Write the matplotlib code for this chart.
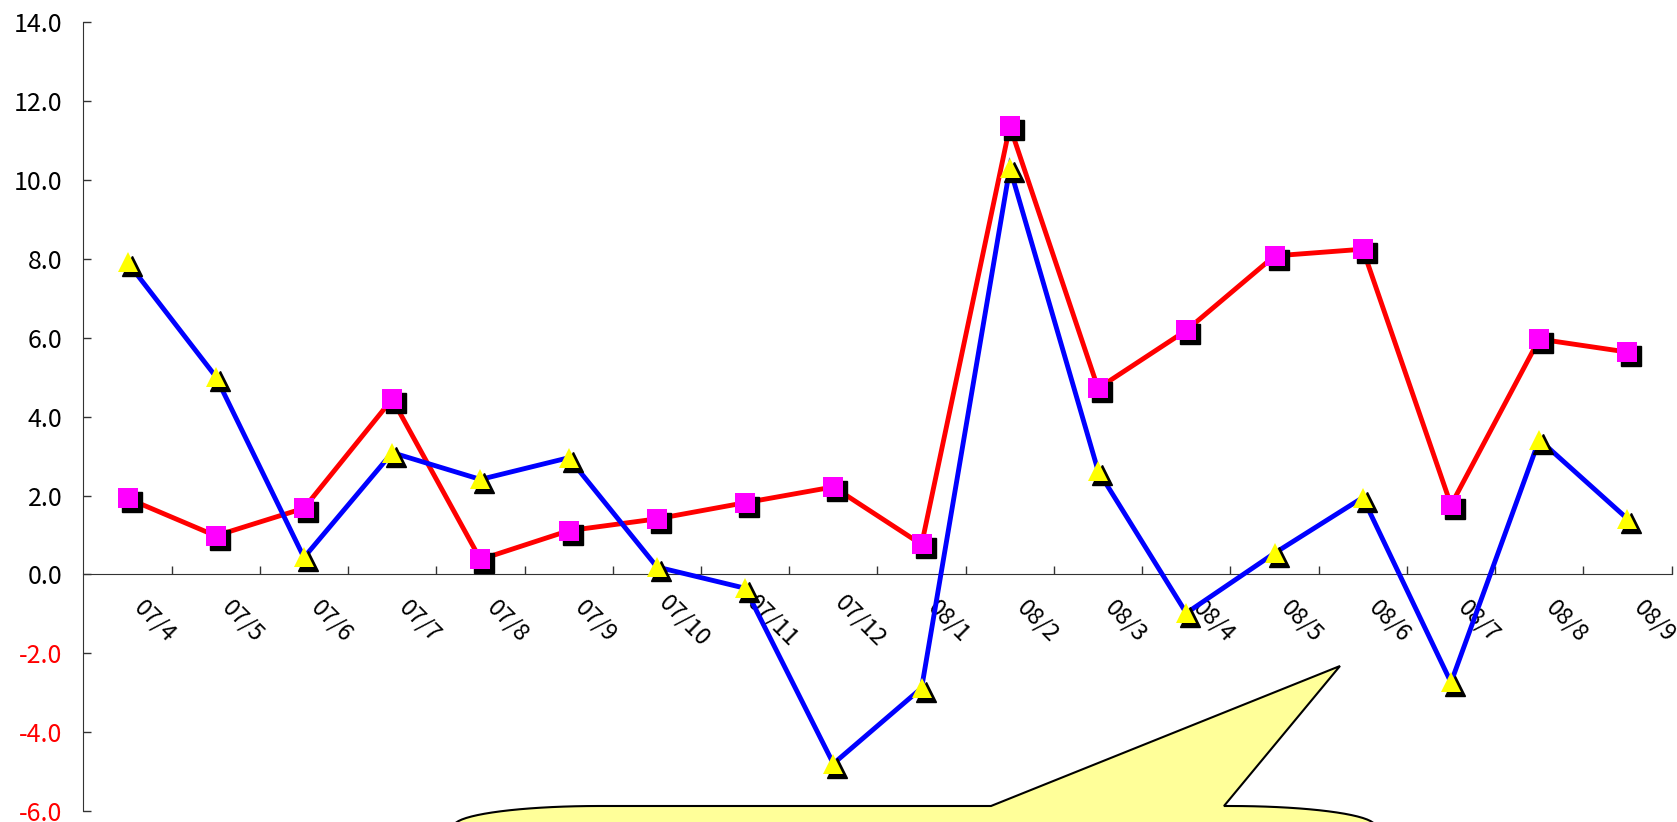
import matplotlib
matplotlib.use("Agg")
import matplotlib.pyplot as plt
from matplotlib.transforms import offset_copy
from matplotlib.patches import Polygon
import numpy as np

plt.rcParams['font.family'] = ['Noto Sans CJK JP', 'DejaVu Sans']

categories = ["07/4", "07/5", "07/6", "07/7", "07/8", "07/9", "07/10", "07/11", "07/12",
              "08/1", "08/2", "08/3", "08/4", "08/5", "08/6", "08/7", "08/8", "08/9"]
red_series = [1.93, 0.98, 1.68, 4.45, 0.38, 1.11, 1.41, 1.82, 2.22,
              0.76, 11.37, 4.72, 6.19, 8.08, 8.25, 1.76, 5.97, 5.64]
blue_series = [7.92, 5.02, 0.43, 3.09, 2.41, 2.96, 0.19, -0.35, -4.80,
               -2.88, 10.31, 2.63, -0.98, 0.54, 1.95, -2.74, 3.42, 1.41]
y_ticks = [-6, -4, -2, 0, 2, 4, 6, 8, 10, 12, 14]

W, H = 1677, 822
fig = plt.figure(figsize=(W / 100, H / 100), dpi=100)
ax = fig.add_axes([83.4 / W, 1 - 811 / H, 1588.2 / W, (811 - 22.5) / H])

x = np.arange(len(categories))
shadow = offset_copy(ax.transData, fig=fig, x=4, y=-4, units='dots')

# series 1 (red line, magenta squares)
ax.plot(x, red_series, color='#FF0000', lw=3.5, zorder=2, solid_joinstyle='miter')
ax.plot(x, red_series, ls='none', marker='s', ms=14.5, color='black', mec='black',
        transform=shadow, zorder=3)
ax.plot(x, red_series, ls='none', marker='s', ms=14.5, color='#FF00FF', mec='#FF00FF',
        mew=0, zorder=4)
# series 2 (blue line, yellow triangles)
ax.plot(x, blue_series, color='#0000FF', lw=3.5, zorder=5, solid_joinstyle='miter')
ax.plot(x, blue_series, ls='none', marker='^', ms=15, color='black', mec='black',
        transform=shadow, zorder=6)
ax.plot(x, blue_series, ls='none', marker='^', ms=15, color='#FFFF00', mec='#FFFF00',
        mew=0, zorder=7)

ax.set_xlim(-0.5, len(categories) - 0.5)
ax.set_ylim(-6, 14)

for s in ['top', 'right']:
    ax.spines[s].set_visible(False)
ax.spines['bottom'].set_position(('data', 0))
ax.spines['left'].set_color('#333333')
ax.spines['bottom'].set_color('#333333')

ax.set_yticks(y_ticks)
ax.set_yticklabels([f"{v:.1f}" for v in y_ticks], fontsize=18)
for lbl, v in zip(ax.get_yticklabels(), y_ticks):
    lbl.set_color('#FF0000' if v < 0 else 'black')
ax.tick_params(axis='y', direction='in', length=6, width=1, pad=15, color='#333333')

ax.set_xticks(np.arange(0.5, len(categories), 1.0))
ax.set_xticklabels([])
ax.tick_params(axis='x', direction='in', length=6, width=1, color='#333333')

for i, c in enumerate(categories):
    ax.annotate(c, xy=(i, 0), xytext=(27.5 * 0.72, -47 * 0.72), textcoords='offset points',
                rotation=-45, rotation_mode='anchor', ha='center', va='center',
                fontsize=17, color='black', annotation_clip=False)

# speech-bubble callout (pixel coordinates, y downward)
def arc(cx, cy, rx, ry, a0, a1, n=20):
    t = np.linspace(np.radians(a0), np.radians(a1), n)
    return [(cx + rx * np.cos(tt), cy - ry * np.sin(tt)) for tt in t]

pts = [(454, 900), (454, 826)]
pts += arc(599, 826, 145, 20, 180, 90)
pts += [(991, 806), (1340, 666), (1224, 806), (1230, 806)]
pts += arc(1230, 826, 145, 20, 90, 0)
pts += [(1375, 900)]
fig_pts = [(px / W, 1 - py / H) for px, py in pts]
bubble = Polygon(fig_pts, closed=True, transform=fig.transFigure, facecolor='#FFFF99',
                 edgecolor='black', lw=1.5, clip_on=False, zorder=10)
fig.patches.append(bubble)

fig.savefig('out.png', dpi=100)
